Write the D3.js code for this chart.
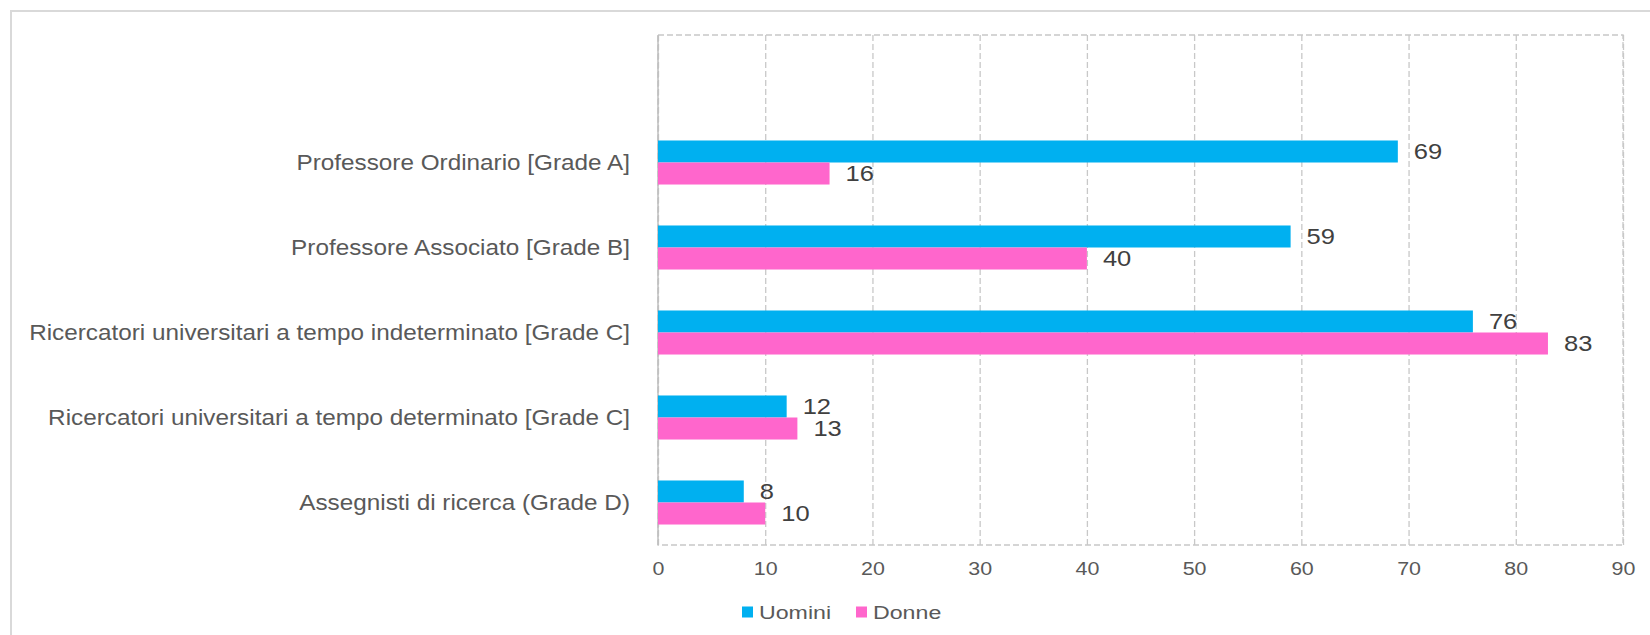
<!DOCTYPE html>
<html>
<head>
<meta charset="utf-8">
<script src="https://cdn.jsdelivr.net/npm/d3@7"></script>
<style>
  body { margin: 0; background: #fff; }
  svg text { font-family: 'Liberation Sans', Arial, sans-serif; fill: #595959; }
  .grid line { stroke: #c8c8c8; stroke-width: 1.3; stroke-dasharray: 6,3; }
</style>
</head>
<body>
<div id="chart"></div>
<script>

// data
const categories = [
  'Professore Ordinario [Grade A]',
  'Professore Associato [Grade B]',
  'Ricercatori universitari a tempo indeterminato [Grade C]',
  'Ricercatori universitari a tempo determinato [Grade C]',
  'Assegnisti di ricerca (Grade D)'
]
const seriesNames = ['Uomini', 'Donne']
const uomini = [69, 59, 76, 12, 8]
const donne = [16, 40, 83, 13, 10]
const xTicks = [0, 10, 20, 30, 40, 50, 60, 70, 80, 90]
const colors = ['#00b0f0', '#ff66cc']

const W = 1650, H = 635
const margin = { top: 35, right: 27, bottom: 90, left: 658 }
const width = W - margin.left - margin.right
const height = H - margin.top - margin.bottom

const svg = d3.select('#chart').append('svg')
  .attr('width', W)
  .attr('height', H)

// outer frame (runs off the right / bottom edge)
svg.append('rect')
  .attr('x', 11).attr('y', 11)
  .attr('width', W).attr('height', H)
  .attr('fill', 'none')
  .attr('stroke', '#d9d9d9')
  .attr('stroke-width', 2)

const chart = svg.append('g')
  .attr('transform', 'translate(' + margin.left + ',' + margin.top + ')')

// Scales

const x = d3.scaleLinear().domain([0, 90]).range([0, width])

// an empty slot is kept on top, like the original chart
const slots = [''].concat(categories)
const y = d3.scaleBand().domain(slots).range([0, height])
  .paddingInner(0.482).paddingOuter(0.241)
const ySub = d3.scaleBand().domain(seriesNames).range([0, y.bandwidth()])

const rows = categories.map((c, i) => ({ cat: c, values: [uomini[i], donne[i]] }))

// Grid + axis

chart.append('rect')
  .attr('width', width).attr('height', height)
  .attr('fill', 'none')
  .attr('stroke', '#c8c8c8')
  .attr('stroke-width', 1.3)
  .attr('stroke-dasharray', '6,3')

chart.append('g')
  .attr('class', 'grid')
  .attr('transform', 'translate(0,' + height + ')')
  .call(d3.axisBottom(x).tickValues(xTicks).tickSize(-height).tickPadding(0))
  .call(g => {
    g.select('.domain').remove()
    g.selectAll('.tick text')
      .attr('y', 24)
      .attr('dy', '0.35em')
      .attr('transform', 'scale(1.19,1)')
      .style('font-size', '18px')
      .style('fill', '#595959')
      .style('font-family', "'Liberation Sans', Arial, sans-serif")
  })

chart.append('line')
  .attr('y1', 0).attr('y2', height)
  .attr('stroke', '#bfbfbf')
  .attr('stroke-width', 1.5)

// category labels
chart.selectAll('.cat')
  .data(categories)
  .enter().append('text')
    .attr('class', 'cat')
    .attr('transform', d => 'translate(-28,' + (y(d) + y.bandwidth() / 2) + ') scale(1.13,1)')
    .attr('dy', '0.35em')
    .attr('text-anchor', 'end')
    .style('font-size', '21.5px')
    .text(d => d)

// Bars

const group = chart.selectAll('.row')
  .data(rows)
  .enter().append('g')
    .attr('class', 'row')
    .attr('transform', d => 'translate(0,' + y(d.cat) + ')')

group.selectAll('rect')
  .data(d => d.values.map((v, i) => ({ name: seriesNames[i], value: v, i: i })))
  .enter().append('rect')
    .attr('x', 0)
    .attr('y', d => ySub(d.name))
    .attr('width', d => x(d.value))
    .attr('height', ySub.bandwidth())
    .attr('fill', d => colors[d.i])

group.selectAll('.val')
  .data(d => d.values.map((v, i) => ({ name: seriesNames[i], value: v })))
  .enter().append('text')
    .attr('class', 'val')
    .attr('transform', d => 'translate(' + (x(d.value) + 16) + ',' +
      (ySub(d.name) + ySub.bandwidth() / 2) + ') scale(1.16,1)')
    .attr('dy', '0.35em')
    .style('font-size', '22px')
    .style('fill', '#404040')
    .text(d => d.value)

// Legend

const legendX = [742, 856]
const legend = svg.selectAll('.legend')
  .data(seriesNames)
  .enter().append('g')
    .attr('class', 'legend')
    .attr('transform', (d, i) => 'translate(' + legendX[i] + ',612)')

legend.append('rect')
  .attr('x', 0).attr('y', -5.5)
  .attr('width', 11).attr('height', 11)
  .attr('fill', (d, i) => colors[i])

legend.append('text')
  .attr('transform', 'translate(17,0) scale(1.22,1)')
  .attr('dy', '0.35em')
  .style('font-size', '19px')
  .text(d => d)

</script>
</body>
</html>
